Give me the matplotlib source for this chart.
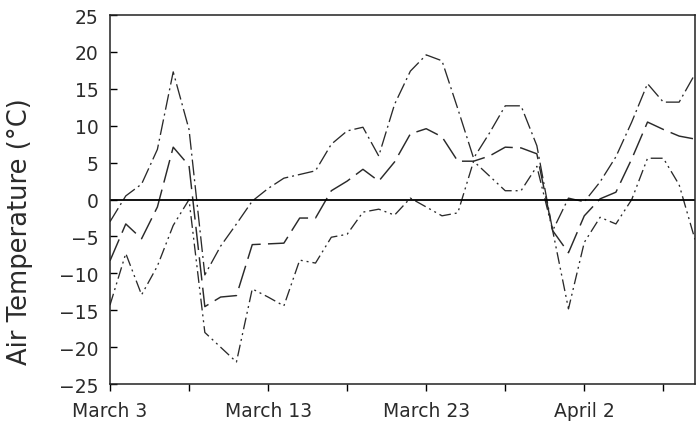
import numpy as np
import matplotlib.pyplot as plt

# days counted from March 3
days = np.arange(0, 38)

t_max = [-3.0, 0.5, 2.1, 6.8, 17.3, 9.5, -10.2, -6.3, -3.3, -0.2,
         1.5, 2.9, 3.4, 3.9, 7.5, 9.3, 9.8, 5.9, 12.9, 17.4,
         19.6, 18.8, 12.3, 5.6, 9.0, 12.7, 12.7, 7.3, -4.2, 0.2,
         -0.3, 2.4, 5.8, 10.5, 15.7, 13.2, 13.2, 17.0]

t_mean = [-8.3, -3.3, -5.3, -1.0, 7.1, 4.6, -14.5, -13.2, -13.0, -6.1,
          -6.0, -5.9, -2.5, -2.5, 1.2, 2.5, 4.1, 2.5, 5.1, 8.9,
          9.6, 8.5, 5.2, 5.2, 5.9, 7.1, 7.0, 6.2, -4.2, -7.2,
          -2.2, 0.1, 1.0, 5.5, 10.5, 9.5, 8.6, 8.2]

t_min = [-14.3, -7.3, -12.9, -9.0, -3.5, 0.0, -18.0, -20.0, -22.0, -12.1,
         -13.2, -14.4, -8.2, -8.6, -5.1, -4.7, -1.7, -1.3, -2.1, 0.2,
         -1.0, -2.2, -1.8, 5.2, 3.2, 1.2, 1.2, 4.5, -4.2, -14.8,
         -5.8, -2.4, -3.3, 0.0, 5.6, 5.6, 2.0, -5.4]

tick_days = [0, 5, 10, 15, 20, 25, 30, 35]
tick_labels = ['March 3', '', 'March 13', '', 'March 23', '', 'April 2', '']

fig = plt.figure(figsize=(6.96, 4.27), dpi=100)
ax = fig.add_axes([0.158, 0.098, 0.8405, 0.8645])

ink = '#2a2a2a'
ax.plot(days, t_max, color=ink, lw=0.95, linestyle=(0, (12, 3, 1.5, 3)))
ax.plot(days, t_mean, color=ink, lw=1.05, linestyle=(0, (16, 5)))
ax.plot(days, t_min, color=ink, lw=0.95, linestyle=(0, (9, 3, 1.5, 3, 1.5, 3)))
ax.axhline(0, color='black', lw=1.3)

ax.set_xlim(0, 37)
ax.set_ylim(-25, 25)
ax.set_yticks(np.arange(-25, 26, 5))
ax.set_xticks(tick_days)
ax.set_xticklabels(tick_labels)

ax.tick_params(axis='y', direction='in', length=5, width=1.0, pad=8,
               labelsize=13.5, labelcolor='#2b2b2b')
ax.tick_params(axis='x', direction='out', length=5, width=1.0, pad=7,
               labelsize=13.5, labelcolor='#2b2b2b')
for s in ax.spines.values():
    s.set_linewidth(1.1)
    s.set_color('#222222')

ax.set_ylabel('Air Temperature (°C)', fontsize=18.5, color='#2b2b2b')
ax.yaxis.set_label_coords(-0.131, 0.415)

fig.savefig('out.png', dpi=100)
